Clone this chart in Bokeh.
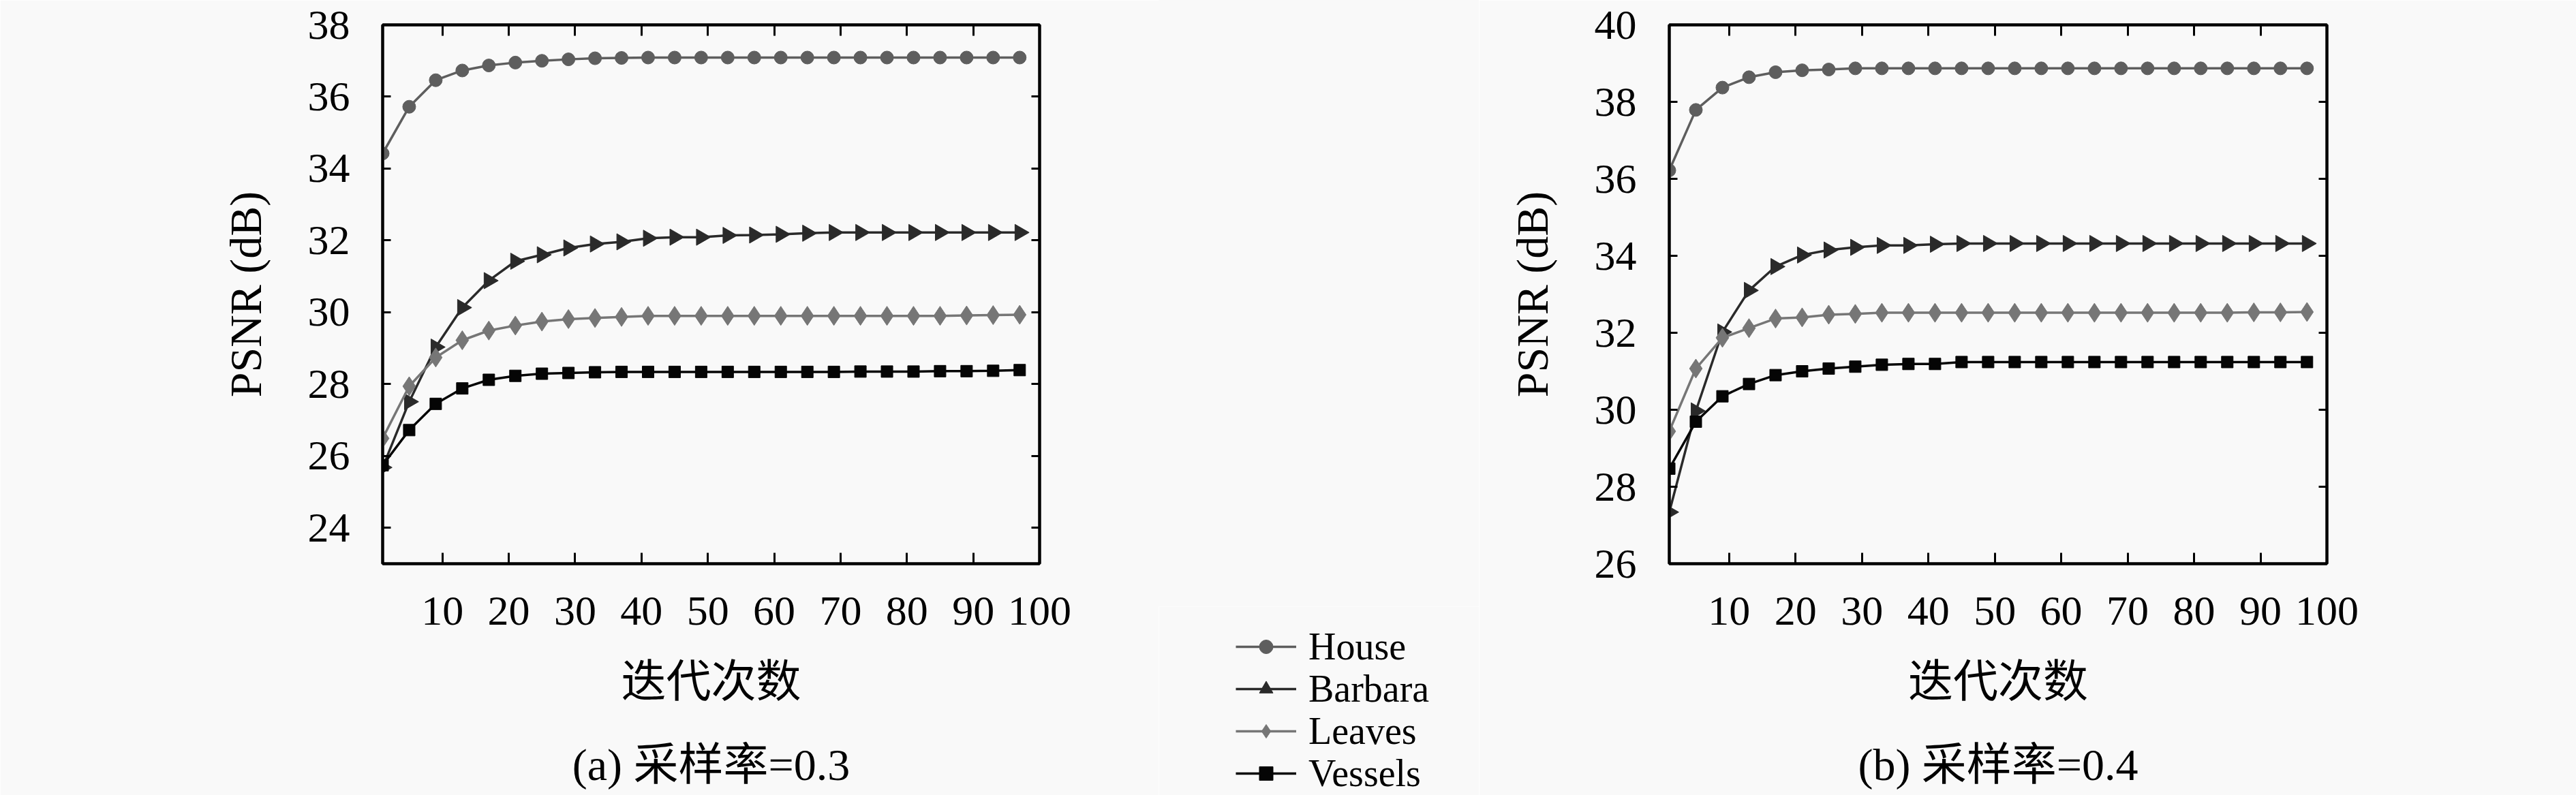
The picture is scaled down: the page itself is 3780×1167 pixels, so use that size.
from bokeh.plotting import figure
from bokeh.models import (Range1d, FixedTicker, LinearAxis, Legend,
                          LegendItem, ColumnDataSource, Spacer)
from bokeh.layouts import row, column
from bokeh.embed import file_html
from bokeh.resources import INLINE
import math

# ---------------- data ----------------
iterations = [1, 5, 9, 13, 17, 21, 25, 29, 33, 37, 41, 45, 49, 53, 57, 61,
              65, 69, 73, 77, 81, 85, 89, 93, 97]

house_03 = [34.42, 35.72, 36.46, 36.73, 36.87, 36.95, 37.00, 37.04, 37.07, 37.08,
            37.09, 37.09, 37.09, 37.09, 37.09, 37.09, 37.09, 37.09, 37.09, 37.09,
            37.09, 37.09, 37.09, 37.09, 37.09]
barbara_03 = [25.68, 27.51, 29.03, 30.13, 30.88, 31.42, 31.60, 31.79, 31.90, 31.96,
              32.06, 32.09, 32.09, 32.14, 32.15, 32.17, 32.20, 32.22, 32.22, 32.22,
              32.22, 32.22, 32.22, 32.22, 32.22]
leaves_03 = [26.49, 27.94, 28.74, 29.22, 29.49, 29.63, 29.74, 29.81, 29.84, 29.87,
             29.90, 29.90, 29.90, 29.90, 29.90, 29.90, 29.90, 29.90, 29.90, 29.90,
             29.90, 29.90, 29.91, 29.92, 29.93]
vessels_03 = [25.74, 26.72, 27.45, 27.88, 28.12, 28.23, 28.29, 28.31, 28.33, 28.34,
              28.34, 28.34, 28.34, 28.34, 28.34, 28.34, 28.34, 28.34, 28.35, 28.35,
              28.35, 28.36, 28.36, 28.37, 28.39]

house_04 = [36.22, 37.79, 38.37, 38.64, 38.77, 38.82, 38.84, 38.87, 38.87, 38.87,
            38.87, 38.87, 38.87, 38.87, 38.87, 38.87, 38.87, 38.87, 38.87, 38.87,
            38.87, 38.87, 38.87, 38.87, 38.87]
barbara_04 = [27.34, 29.97, 32.02, 33.10, 33.72, 34.02, 34.15, 34.22, 34.27, 34.27,
              34.30, 34.32, 34.32, 34.32, 34.32, 34.32, 34.32, 34.32, 34.32, 34.32,
              34.32, 34.32, 34.32, 34.32, 34.32]
leaves_04 = [29.44, 31.07, 31.87, 32.12, 32.37, 32.40, 32.47, 32.49, 32.52, 32.52,
             32.52, 32.52, 32.52, 32.52, 32.52, 32.52, 32.52, 32.52, 32.52, 32.52,
             32.52, 32.52, 32.53, 32.53, 32.54]
vessels_04 = [28.47, 29.69, 30.35, 30.67, 30.90, 31.00, 31.07, 31.12, 31.17, 31.19,
              31.19, 31.24, 31.24, 31.24, 31.24, 31.24, 31.24, 31.24, 31.24, 31.24,
              31.24, 31.24, 31.24, 31.24, 31.24]

series_names = ["House", "Barbara", "Leaves", "Vessels"]
x_ticks = [10, 20, 30, 40, 50, 60, 70, 80, 90, 100]
y_ticks_03 = [24, 26, 28, 30, 32, 34, 36, 38]
y_ticks_04 = [26, 28, 30, 32, 34, 36, 38, 40]
x_label = "迭代次数"
y_label = "PSNR (dB)"
caption_03 = "(a) 采样率=0.3"
caption_04 = "(b) 采样率=0.4"

# ---------------- style ----------------
FONT = "Liberation Serif, Noto Sans CJK SC"
BG = "#f9f9f9"
STYLE = {
    "House":   dict(color="#5e5e5e", marker="circle",   size=19, angle=0.0),
    "Barbara": dict(color="#2a2a2a", marker="triangle", size=24, angle=-math.pi / 2),
    "Leaves":  dict(color="#767676", marker="diamond",  size=28, angle=0.0),
    "Vessels": dict(color="#050505", marker="square",   size=17, angle=0.0),
}
LW = 3.5
H = 1167
TOP = 36
FRAME_H = 791
BOTTOM = H - TOP - FRAME_H


def style_axis(ax, tick_len, labels=True):
    ax.axis_line_color = "black"
    ax.axis_line_width = 4
    ax.major_tick_in = tick_len
    ax.major_tick_out = 0
    ax.major_tick_line_width = 3
    ax.major_tick_line_color = "black"
    ax.minor_tick_line_color = None
    if labels:
        ax.major_label_text_font = FONT
        ax.major_label_text_font_size = "62px"
        ax.major_label_text_color = "black"
        ax.axis_label_text_font = FONT
        ax.axis_label_text_font_size = "66px"
        ax.axis_label_text_font_style = "normal"
        ax.axis_label_text_color = "black"
    else:
        ax.major_label_text_font_size = "2px"
        ax.major_label_text_color = None
        ax.major_label_standoff = 0


def make_panel(values, y_lo, y_hi, y_ticks, caption, width, left_b, right_b):
    p = figure(width=width, height=H, x_range=Range1d(1, 100),
               y_range=Range1d(y_lo, y_hi), output_backend="svg",
               toolbar_location=None, min_border_left=left_b,
               min_border_right=right_b, min_border_top=TOP,
               min_border_bottom=BOTTOM,
               background_fill_color=BG, border_fill_color=BG,
               outline_line_color="black", outline_line_width=4)
    p.grid.visible = False

    xa = p.xaxis[0]
    xa.ticker = FixedTicker(ticks=x_ticks)
    style_axis(xa, 16)
    xa.major_label_standoff = 49
    xa.axis_label = x_label
    xa.axis_label_standoff = 44

    ya = p.yaxis[0]
    ya.ticker = FixedTicker(ticks=y_ticks)
    style_axis(ya, 12)
    ya.major_label_standoff = 48
    ya.axis_label = y_label
    ya.axis_label_standoff = 52

    ra = LinearAxis(ticker=FixedTicker(ticks=y_ticks))
    style_axis(ra, 12, labels=False)
    p.add_layout(ra, "right")
    ta = LinearAxis(ticker=FixedTicker(ticks=x_ticks))
    style_axis(ta, 16, labels=False)
    p.add_layout(ta, "above")

    for name, ys in zip(series_names, values):
        st = STYLE[name]
        src = ColumnDataSource(data=dict(x=iterations, y=ys))
        p.line("x", "y", source=src, line_color=st["color"], line_width=LW)
        p.scatter("x", "y", source=src, marker=st["marker"], size=st["size"],
                  angle=st["angle"], fill_color=st["color"],
                  line_color=st["color"], line_width=1)

    # sub-figure caption, drawn as the label of a bare axis below the x axis
    cap = LinearAxis(ticker=FixedTicker(ticks=[]), axis_label=caption)
    cap.axis_line_color = None
    cap.major_tick_line_color = None
    cap.minor_tick_line_color = None
    cap.major_tick_in = 0
    cap.major_tick_out = 0
    cap.minor_tick_in = 0
    cap.minor_tick_out = 0
    cap.major_label_text_font_size = "2px"
    cap.major_label_text_color = None
    cap.major_label_standoff = 0
    cap.axis_label_standoff = 46
    cap.axis_label_text_font = FONT
    cap.axis_label_text_font_size = "66px"
    cap.axis_label_text_font_style = "normal"
    cap.axis_label_text_color = "black"
    p.add_layout(cap, "below")
    return p


values_03 = [house_03, barbara_03, leaves_03, vessels_03]
values_04 = [house_04, barbara_04, leaves_04, vessels_04]
pa = make_panel(values_03, 23, 38, y_ticks_03, caption_03, 1700, 561, 175)
pb = make_panel(values_04, 26, 40, y_ticks_04, caption_04, 1610, 279, 366)

# ---------------- legend panel (between the two plots, below) ----------------
LEG_W = 470
SPACER_H = 890
LEG_H = H - SPACER_H
leg = figure(width=LEG_W, height=LEG_H, x_range=Range1d(-300, -200),
             y_range=Range1d(0, 1), output_backend="svg",
             toolbar_location=None, min_border=0,
             x_axis_location=None, y_axis_location=None,
             background_fill_color=BG, border_fill_color=BG,
             outline_line_color=None)
leg.grid.visible = False

ITEM_H = 62          # height of one legend entry (text height)
PITCH = 62           # vertical distance between entries
FIRST_CENTER = 950   # page y of the first entry
for i, (name, ys) in enumerate(zip(series_names, values_03)):
    st = STYLE[name]
    src = ColumnDataSource(data=dict(x=iterations, y=ys))
    lr = leg.line("x", "y", source=src, line_color=st["color"], line_width=LW)
    sr = leg.scatter("x", "y", source=src, marker=st["marker"], size=st["size"],
                     angle=st["angle"], fill_color=st["color"],
                     line_color=st["color"])
    center_from_bottom = H - (FIRST_CENTER + i * PITCH)
    lg = Legend(items=[LegendItem(label=name, renderers=[lr, sr])],
                location=(113, center_from_bottom - ITEM_H / 2),
                orientation="vertical",
                glyph_width=89, glyph_height=50, label_standoff=18,
                padding=0, margin=0, border_line_color=None,
                background_fill_alpha=0, label_text_font=FONT,
                label_text_font_size="56px", label_text_color="black")
    leg.add_layout(lg, "center")

mid = column(Spacer(width=LEG_W, height=SPACER_H,
                    styles={"background-color": BG}), leg)
layout = row(pa, mid, pb)
open("out.html", "w").write(file_html(layout, INLINE))
